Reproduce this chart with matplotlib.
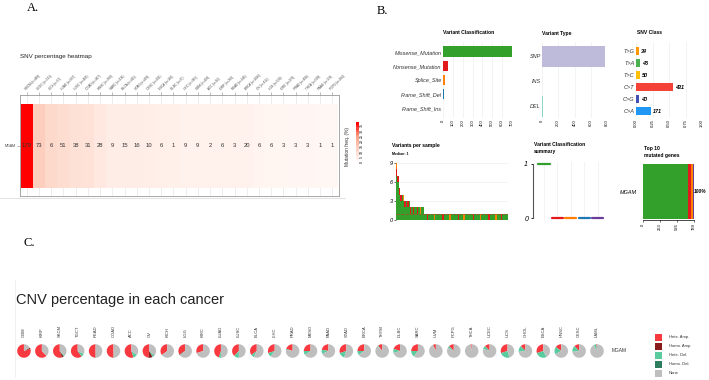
import numpy as np
import matplotlib.pyplot as plt
from matplotlib.colors import LinearSegmentedColormap, Normalize
from matplotlib.cm import ScalarMappable
from matplotlib.patches import Rectangle

plt.rcParams['font.family'] = ['Liberation Sans', 'DejaVu Sans']

# ---------------- dados ----------------
# A: SNV heatmap
hm_cancer = ['SKCM', 'UCEC', 'UCS', 'LUAD', 'LUSC', 'COAD', 'HNSC', 'SARC', 'BLCA', 'STAD',
             'CESC', 'ESCA', 'DLBC', 'LIHC', 'GBM', 'ACC', 'KIRP', 'READ', 'BRCA', 'OV',
             'LGG', 'KIRC', 'PRAD', 'THCA', 'PAAD', 'PCPG']
hm_n = [468, 531, 57, 567, 485, 407, 508, 236, 411, 439, 291, 185, 37, 365, 403, 92, 282, 146,
        1026, 412, 530, 370, 498, 500, 178, 184]
hm_count = [179, 73, 6, 51, 38, 31, 28, 9, 15, 16, 10, 6, 1, 9, 9, 2, 6, 3, 20, 6, 6, 3, 3, 3, 1, 1]

# B: maftools summary
vc_class = ['Missense_Mutation', 'Nonsense_Mutation', 'Splice_Site', 'Frame_Shift_Del', 'Frame_Shift_Ins']
vc_count = [700, 47, 25, 8, 2]
vc_cores = ['#33A02C', '#E31A1C', '#FF7F00', '#1F78B4', '#6A3D9A']

vt_tipo = ['SNP', 'INS', 'DEL']
vt_count = [772, 0, 7]
vt_cores = ['#BEBADA', '#FB8072', '#8DD3C7']

snv_class = ['T>G', 'T>A', 'T>C', 'C>T', 'C>G', 'C>A']
snv_count = [34, 46, 50, 431, 40, 171]
snv_cores = ['#FF9800', '#4CAF50', '#FFC107', '#F44336', '#3F51B5', '#2196F3']

vps_missense = [7, 6, 4, 3, 4, 3, 2, 3, 2, 3, 1, 2, 1, 2, 2, 1, 2, 1, 2, 2,
                1, 1, 0, 1, 1, 1, 1, 0, 1, 1, 1, 1, 1, 0, 1, 1, 1, 1, 0, 1,
                1, 1, 1, 1, 0, 1, 1, 1, 0, 1, 1, 1, 1, 1, 1, 0, 1, 1, 1, 1,
                0, 1, 1, 1, 1, 1, 0, 1, 1, 1, 1, 0, 1, 1, 1, 0, 1, 1, 1, 1]
vps_nonsense = [1, 1, 1, 1, 0, 0, 1, 0, 1, 0, 1, 0, 1, 0, 0, 1, 0, 0, 0, 0,
                0, 0, 1, 0, 0, 0, 0, 0, 0, 0, 0, 0, 0, 1, 0, 0, 0, 0, 0, 0,
                0, 0, 0, 0, 1, 0, 0, 0, 0, 0, 0, 0, 0, 0, 0, 1, 0, 0, 0, 0,
                0, 0, 0, 0, 0, 0, 1, 0, 0, 0, 0, 0, 0, 0, 0, 1, 0, 0, 0, 0]
vps_splice = [1, 0, 0, 0, 0, 1, 0, 0, 0, 0, 0, 0, 0, 0, 0, 0, 0, 1, 0, 0,
              0, 0, 0, 0, 0, 0, 0, 1, 0, 0, 0, 0, 0, 0, 0, 0, 0, 0, 1, 0,
              0, 0, 0, 0, 0, 0, 0, 0, 1, 0, 0, 0, 0, 0, 0, 0, 0, 0, 0, 0,
              1, 0, 0, 0, 0, 0, 0, 0, 0, 0, 0, 1, 0, 0, 0, 0, 0, 0, 0, 0]
vps_mediana = 1

vcs_mediana = [1, 0, 0, 0, 0]

top_gene = 'MGAM'
top_count = [700, 47, 25, 8, 2]

# C: CNV pies  (Hete. Amp., Homo. Amp., Hete. Del., Homo. Del., None)
cnv_cancer = ['GBM', 'KIRP', 'SKCM', 'TGCT', 'READ', 'COAD', 'ACC', 'OV', 'KICH', 'LGG', 'KIRC',
              'LUAD', 'LUSC', 'BLCA', 'LIHC', 'PRAD', 'MESO', 'PAAD', 'STAD', 'BRCA', 'THYM',
              'DLBC', 'SARC', 'UVM', 'PCPG', 'THCA', 'UCEC', 'UCS', 'CHOL', 'ESCA', 'HNSC',
              'CESC', 'LAML']
cnv_hete_amp = [0.80, 0.62, 0.55, 0.60, 0.50, 0.50, 0.55, 0.48, 0.35, 0.33, 0.30,
                0.45, 0.38, 0.35, 0.30, 0.20, 0.25, 0.22, 0.30, 0.25, 0.10,
                0.20, 0.25, 0.07, 0.12, 0.03, 0.12, 0.30, 0.12, 0.30, 0.15,
                0.12, 0.02]
cnv_homo_amp = [0.03, 0.00, 0.05, 0.00, 0.00, 0.00, 0.00, 0.10, 0.00, 0.02, 0.00,
                0.00, 0.00, 0.00, 0.00, 0.00, 0.00, 0.00, 0.00, 0.00, 0.00,
                0.00, 0.00, 0.00, 0.00, 0.00, 0.00, 0.00, 0.00, 0.00, 0.00,
                0.00, 0.00]
cnv_hete_del = [0.00, 0.00, 0.03, 0.08, 0.01, 0.01, 0.10, 0.05, 0.00, 0.01, 0.00,
                0.05, 0.12, 0.08, 0.10, 0.02, 0.10, 0.10, 0.15, 0.10, 0.02,
                0.10, 0.15, 0.01, 0.05, 0.00, 0.08, 0.25, 0.15, 0.28, 0.18,
                0.15, 0.06]
cnv_homo_del = [0.00, 0.00, 0.00, 0.00, 0.00, 0.00, 0.00, 0.01, 0.00, 0.00, 0.00,
                0.00, 0.00, 0.00, 0.00, 0.00, 0.00, 0.00, 0.00, 0.00, 0.00,
                0.00, 0.00, 0.00, 0.00, 0.00, 0.00, 0.00, 0.00, 0.00, 0.00,
                0.00, 0.00]
cnv_legenda = ['Hete. Amp.', 'Homo. Amp.', 'Hete. Del.', 'Homo. Del.', 'None']
cnv_cores = ['#F8393F', '#8B1C1C', '#5ACB9E', '#2F7D5E', '#BEBEBE']

# ---------------- figura ----------------
W, H = 709, 380
fig = plt.figure(figsize=(W / 100, H / 100), dpi=100)


def eixo(x0, y0, x1, y1):
    """Cria um axes a partir de coordenadas em pixels (origem no topo)."""
    return fig.add_axes([x0 / W, 1 - y1 / H, (x1 - x0) / W, (y1 - y0) / H])


ov = fig.add_axes([0, 0, 1, 1])
ov.set_xlim(0, W)
ov.set_ylim(H, 0)
ov.axis('off')

for txt, x, y in [('A.', 27, 8), ('B.', 377, 11), ('C.', 23, 243)]:
    ov.text(x, y, txt, fontsize=9, family='Liberation Serif', va='center', ha='left')
ov.plot([0, 345], [198, 198], color='#DDDDDD', lw=0.6)
ov.plot([15, 15], [280, 377], color='#EEEEEE', lw=0.6)

# ---------------- A: heatmap ----------------
pct = np.array(hm_count) / np.array(hm_n) * 100
cmap_hm = LinearSegmentedColormap.from_list('hm', ['#FFF8F5', '#FDD2C2', '#FB9E84', '#FF0000'])
norm_hm = Normalize(0, pct.max())

ax = eixo(20, 95, 339, 196)
ncol = len(hm_cancer)
ax.pcolormesh(np.arange(ncol + 1) - 0.5, [-0.5, 0.5], pct[None, :], cmap=cmap_hm, norm=norm_hm,
              zorder=2)
for i, c in enumerate(hm_count):
    ax.text(i, 0, str(c), ha='center', va='center', fontsize=4.2, color='#333333', zorder=3)
ax.set_xlim(-0.55, ncol - 0.45)
ax.set_ylim(-0.6, 0.61)
ax.set_xticks(np.arange(ncol))
ax.grid(axis='x', color='#E6E6E6', lw=0.5, zorder=0)
ax.xaxis.tick_top()
ax.set_xticklabels([f'{c} (n={n})' for c, n in zip(hm_cancer, hm_n)], rotation=45,
                   ha='left', va='bottom', rotation_mode='anchor', fontsize=2.2, color='#444444')
ax.set_yticks([0])
ax.set_yticklabels([top_gene], fontsize=2.6, color='#444444')
ax.tick_params(length=2, width=0.4, color='#888888', pad=0.8)
for s in ax.spines.values():
    s.set_color('#999999')
    s.set_linewidth(0.6)
ax.set_title('SNV percentage heatmap', fontsize=4.5, loc='left', x=0, y=1.28, color='#222222')

cax = eixo(356, 122, 359, 162)
sm = ScalarMappable(norm=norm_hm, cmap=cmap_hm.resampled(16))
cb = fig.colorbar(sm, cax=cax, ticks=np.arange(0, 36, 5))
cb.outline.set_visible(False)
cb.ax.tick_params(length=0, labelsize=2.6, pad=0.5)
for t in cb.ax.get_yticklabels():
    t.set_rotation(90)
    t.set_va('center')
ov.text(348, 146, 'Mutation freq. (%)', rotation=90, fontsize=3.5, ha='center', va='center',
        color='#333333')

# ---------------- B: resumo ----------------
grade = '#EBEBEB'


def estilo_barra(a):
    for s in a.spines.values():
        s.set_visible(False)
    a.grid(axis='x', color=grade, lw=0.4)
    a.set_axisbelow(True)
    a.tick_params(length=0, pad=1)


# Variant Classification
ax = eixo(443, 42, 512, 118)
yv = np.arange(len(vc_class))[::-1]
ax.barh(yv, vc_count, height=0.78, color=vc_cores)
ax.set_ylim(-0.71, 4.71)
ax.set_xlim(0, 700)
ax.set_xticks(np.arange(0, 701, 100))
ax.tick_params(axis='x', labelsize=3, labelrotation=90)
ax.set_yticks(yv)
ax.set_yticklabels(vc_class, fontsize=4, style='italic', color='#333333')
estilo_barra(ax)
ov.text(443, 33, 'Variant Classification', fontsize=3.6, weight='bold', va='center')

# Variant Type
ax = eixo(542, 42, 607, 118)
yv = np.arange(len(vt_tipo))[::-1]
ax.barh(yv, vt_count, height=0.84, color=vt_cores)
ax.set_ylim(-0.48, 2.56)
ax.set_xlim(0, 800)
ax.set_xticks(np.arange(0, 801, 200))
ax.tick_params(axis='x', labelsize=3, labelrotation=90)
ax.set_yticks(yv)
ax.set_yticklabels(vt_tipo, fontsize=4, style='italic', color='#333333')
estilo_barra(ax)
ov.text(542, 33, 'Variant Type', fontsize=3.6, weight='bold', va='center')

# SNV Class
ax = eixo(636, 42, 702, 118)
frac = np.array(snv_count) / sum(snv_count)
yv = np.arange(len(snv_class))[::-1]
ax.barh(yv, frac, height=0.67, color=snv_cores)
for y, f, c in zip(yv, frac, snv_count):
    ax.text(f + 0.03, y, str(c), fontsize=4, weight='bold', style='italic', va='center')
ax.set_ylim(-0.58, 5.75)
ax.set_xlim(0, 1)
ax.set_xticks([0, 0.25, 0.5, 0.75, 1])
ax.set_xticklabels(['0.00', '0.25', '0.50', '0.75', '1.00'])
ax.tick_params(axis='x', labelsize=3, labelrotation=90)
ax.set_yticks(yv)
ax.set_yticklabels(snv_class, fontsize=4, style='italic', color='#333333')
estilo_barra(ax)
ov.text(637, 33, 'SNV Class', fontsize=3.6, weight='bold', va='center')

# Variants per sample
ax = eixo(396, 160, 508, 220)
xs = np.arange(len(vps_missense))
m = np.array(vps_missense)
n = np.array(vps_nonsense)
sp = np.array(vps_splice)
ax.bar(xs, m, width=0.9, color=vc_cores[0], lw=0)
ax.bar(xs, n, width=0.9, bottom=m, color=vc_cores[1], lw=0)
ax.bar(xs, sp, width=0.9, bottom=m + n, color=vc_cores[2], lw=0)
ax.axhline(vps_mediana, color='#A0522D', lw=0.6, ls='--')
ax.set_xlim(-0.5, len(xs) - 0.5)
ax.set_ylim(0, 9.47)
ax.set_xticks([])
ax.set_yticks([0, 3, 6, 9])
ax.tick_params(axis='y', labelsize=4, length=1.5, width=0.4, pad=1)
for t in ax.get_yticklabels():
    t.set_style('italic')
ax.grid(axis='y', color=grade, lw=0.4)
ax.set_axisbelow(True)
for s in ax.spines.values():
    s.set_visible(False)
ov.text(392, 146, 'Variants per sample', fontsize=3.6, weight='bold', va='center')
ov.text(392, 154, f'Median: {vps_mediana}', fontsize=2.5, weight='bold', va='center')

# Variant Classification summary
ax = eixo(533, 162, 607, 220)
for i, (v, c) in enumerate(zip(vcs_mediana, vc_cores)):
    ax.plot([i - 0.42, i + 0.42], [v, v], color=c, lw=1.6, solid_capstyle='round')
ax.set_xlim(-0.82, 4.7)
ax.set_ylim(-0.03, 1.03)
ax.set_xticks(range(len(vc_class)))
ax.set_xticklabels([])
ax.grid(axis='x', color=grade, lw=0.4)
ax.set_axisbelow(True)
ax.set_yticks([0, 1])
ax.tick_params(axis='x', length=0)
ax.tick_params(axis='y', labelsize=5, length=1.5, width=0.6, pad=2)
for t in ax.get_yticklabels():
    t.set_style('italic')
for k in ['top', 'right', 'bottom']:
    ax.spines[k].set_visible(False)
ax.spines['left'].set_color('#555555')
ax.spines['left'].set_bounds(0, 1)
ov.text(534, 148, 'Variant Classification\nsummary', fontsize=3.6, weight='bold', va='center',
        linespacing=1.3)

# Top 10 mutated genes
ax = eixo(643, 163, 694, 220)
esq = 0
for v, c in zip(top_count, vc_cores):
    ax.barh(0, v, left=esq, height=0.95, color=c, lw=0)
    esq += v
ax.text(esq + 5, 0, '100%', fontsize=3.5, weight='bold', style='italic', va='center')
ax.set_xlim(0, 789)
ax.set_ylim(-0.5, 0.5)
ax.set_xticks([0, 263, 526, 789])
ax.tick_params(axis='x', labelsize=3, labelrotation=90, length=1.5, width=0.4, pad=1)
ax.set_yticks([0])
ax.set_yticklabels([top_gene], fontsize=4, style='italic')
ax.tick_params(axis='y', length=0, pad=4)
for k in ['top', 'right', 'left']:
    ax.spines[k].set_visible(False)
ax.spines['bottom'].set_linewidth(0.5)
ov.text(644, 152, 'Top 10\nmutated genes', fontsize=3.6, weight='bold', va='center',
        linespacing=1.3)

# ---------------- C: CNV pies ----------------
ov.text(16, 300, 'CNV percentage in each cancer', fontsize=10.5, va='center', ha='left',
        color='#222222')

x0, x1, y0, y1 = 15, 606, 330, 372
ax = eixo(x0, y0, x1, y1)
ncnv = len(cnv_cancer)
upx = (x1 - x0) / ncnv
meia = (y1 - y0) / upx / 2
yc = meia - (351 - y0) / upx
raio = 0.377
for i in range(ncnv):
    partes = [cnv_hete_amp[i], cnv_homo_amp[i], cnv_hete_del[i], cnv_homo_del[i]]
    partes.append(1 - sum(partes))
    ax.pie(partes, colors=cnv_cores, center=(i, yc), radius=raio, startangle=90,
           counterclock=True, wedgeprops=dict(linewidth=0))
    ax.text(i, yc + raio + 0.42, cnv_cancer[i], rotation=90, fontsize=3, ha='center',
            va='bottom', color='#333333', clip_on=False)
ax.set_xlim(-0.5, ncnv - 0.5)
ax.set_ylim(-meia, meia)
ax.axis('off')
ov.text(612, 351, top_gene, fontsize=3.5, va='center', color='#333333')

for j, (lab, c) in enumerate(zip(cnv_legenda, cnv_cores)):
    yy = 337 + j * 9
    ov.add_patch(Rectangle((655, yy - 3.5), 7, 7, color=c, lw=0))
    ov.text(669, yy, lab, fontsize=3, va='center', color='#333333')

fig.savefig('out.png', dpi=100)
